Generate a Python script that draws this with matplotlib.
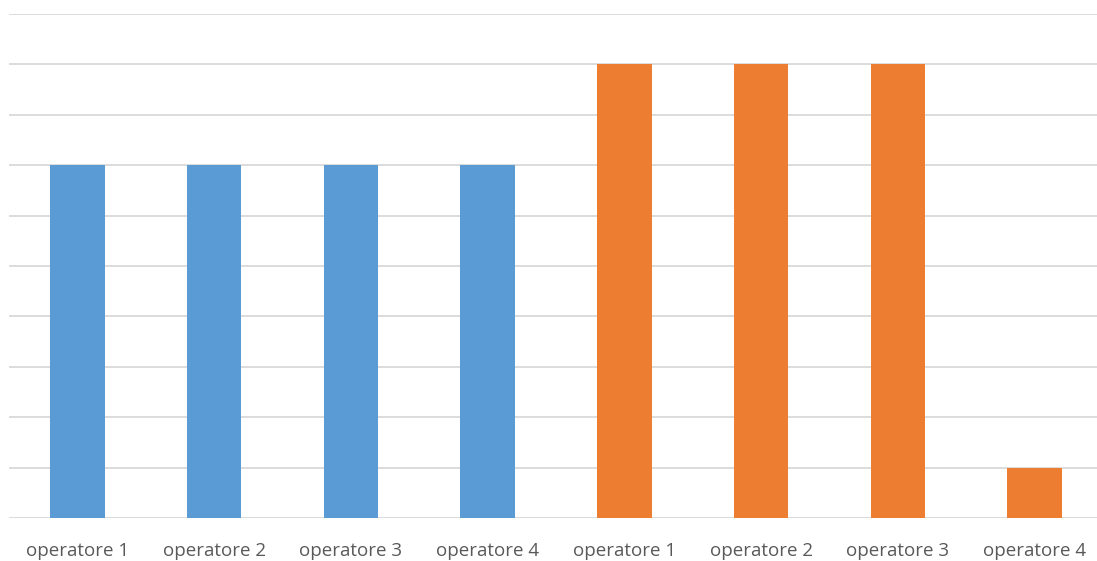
import matplotlib
matplotlib.use("Agg")
import matplotlib.pyplot as plt

categories = ["operatore 1", "operatore 2", "operatore 3", "operatore 4",
              "operatore 1", "operatore 2", "operatore 3", "operatore 4"]
values = [7, 7, 7, 7, 9, 9, 9, 1]
colors = ["#5B9BD5"] * 4 + ["#ED7D31"] * 4

fig = plt.figure(figsize=(10.97, 5.61), dpi=100)
ax = fig.add_axes([9 / 1097, 43 / 561, 1094 / 1097, 504 / 561])

x = list(range(len(categories)))
ax.bar(x, values, width=0.4, color=colors, zorder=3)
ax.set_xlim(-0.5, len(categories) - 0.5)
ax.set_ylim(0, 10)
ax.set_yticks(range(0, 11))
ax.yaxis.grid(True, color="#D9D9D9", linewidth=1.3, zorder=0)
ax.tick_params(axis="y", left=False, labelleft=False)
ax.tick_params(axis="x", length=0, pad=17)
ax.set_xticks(x)
ax.set_xticklabels(categories, fontsize=13.5, color="#595959", family="Open Sans")
for s in ax.spines.values():
    s.set_visible(False)

fig.savefig("out.png", dpi=100)
